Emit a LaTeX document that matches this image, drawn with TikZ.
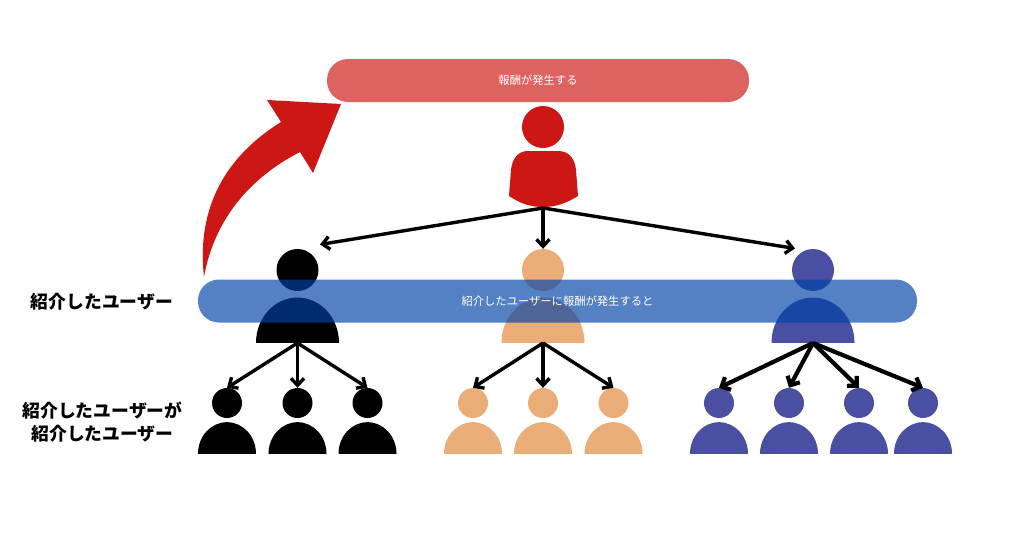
\documentclass[tikz,border=0pt]{standalone}
\usepackage{fontspec}
\setmainfont{Noto Sans CJK JP}
\usepackage{tikz}
\usetikzlibrary{shapes,arrows.meta,positioning}
\definecolor{redc}{HTML}{CC1714}
\definecolor{bluec}{RGB}{0,67,167}
\definecolor{orangec}{HTML}{EBAD78}
\definecolor{navyc}{HTML}{4B4FA1}
\tikzset{
  bar/.style={rectangle,rounded corners=21pt,inner sep=0pt,minimum height=43pt,fill opacity=.67,text opacity=1,text=white,font=\fontsize{11.3pt}{13pt}\selectfont},
  lbl/.style={align=center,font=\fontsize{17.8pt}{23pt}\selectfont\bfseries},
  hd/.style={circle,inner sep=0pt,minimum size=42pt},
  shd/.style={circle,inner sep=0pt,minimum size=30pt},
  bd/.style={semicircle,inner sep=0pt,minimum width=83pt,anchor=chord center,yscale=1.09,transform shape},
  sbd/.style={semicircle,inner sep=0pt,minimum width=58pt,anchor=chord center,yscale=1.09,transform shape},
  arr/.style={-{Straight Barb[length=7pt,width=13pt]},line width=3.4pt},
  thk/.style={-{Straight Barb[length=7pt,width=14pt]},line width=4.2pt},
}
\begin{document}
\begin{tikzpicture}[x=1pt,y=-1pt]
  \useasboundingbox (0,0) rectangle (1024,538);
  % top
  \node[bar,fill=redc,minimum width=422pt] (reward) at (538,80.5) {報酬が発生する};
  \fill[redc] (204,277) .. controls (196,205) and (228,155) .. (281,122) -- (267,100) -- (341,104) -- (313,173) -- (300,152) .. controls (255,175) and (215,215) .. cycle;
  \node[hd,fill=redc] (top) at (543,127) {};
  \fill[redc] (528,151) -- (558,151) .. controls (570,151) and (575,160) .. (576,170) -- (578,196) .. controls (565,204) and (555,207) .. (543,207) .. controls (531,207) and (521,204) .. (509,196) -- (511,170) .. controls (512,160) and (517,151) .. (528,151) -- cycle;
  \coordinate (root) at (543,208);
  % users
  \node[hd,fill=black] (u1) at (297.5,270) {};
  \node[bd,fill=black] (ub1) at (297.5,343) {};
  \node[hd,fill=orangec] (u2) at (543,270) {};
  \node[bd,fill=orangec] (ub2) at (543,343) {};
  \node[hd,fill=navyc] (u3) at (813,270) {};
  \node[bd,fill=navyc] (ub3) at (813,343) {};
  \coordinate (t1) at (320,244.5);
  \coordinate (t3) at (795,248.5);
  \draw[arr] (root) -- (t1);
  \draw[arr] (root) -- (u2.north);
  \draw[arr] (root) -- (t3);
  % second level
  \node[shd,fill=black] (a1) at (227,403) {};
  \node[sbd,fill=black] (ab1) at (227,454) {};
  \node[shd,fill=black] (a2) at (297.5,403) {};
  \node[sbd,fill=black] (ab2) at (297.5,454) {};
  \node[shd,fill=black] (a3) at (367.5,403) {};
  \node[sbd,fill=black] (ab3) at (367.5,454) {};
  \node[shd,fill=orangec] (b1) at (473,403) {};
  \node[sbd,fill=orangec] (bb1) at (473,454) {};
  \node[shd,fill=orangec] (b2) at (543,403) {};
  \node[sbd,fill=orangec] (bb2) at (543,454) {};
  \node[shd,fill=orangec] (b3) at (613.5,403) {};
  \node[sbd,fill=orangec] (bb3) at (613.5,454) {};
  \node[shd,fill=navyc] (c1) at (719,403) {};
  \node[sbd,fill=navyc] (cb1) at (719,454) {};
  \node[shd,fill=navyc] (c2) at (789,403) {};
  \node[sbd,fill=navyc] (cb2) at (789,454) {};
  \node[shd,fill=navyc] (c3) at (859,403) {};
  \node[sbd,fill=navyc] (cb3) at (859,454) {};
  \node[shd,fill=navyc] (c4) at (923,403) {};
  \node[sbd,fill=navyc] (cb4) at (923,454) {};
  \draw[arr] (ub1.chord center) -- (a1.north); \draw[arr] (ub1.chord center) -- (a2.north); \draw[arr] (ub1.chord center) -- (a3.north);
  \draw[arr] (ub2.chord center) -- (b1.north); \draw[arr] (ub2.chord center) -- (b2.north); \draw[arr] (ub2.chord center) -- (b3.north);
  \draw[thk] (ub3.chord center) -- (c1.north); \draw[thk] (ub3.chord center) -- (c2.north);
  \draw[thk] (ub3.chord center) -- (c3.north); \draw[thk] (ub3.chord center) -- (c4.north);
  % bar and labels
  \node[bar,fill=bluec,minimum width=719pt] (msg) at (557.5,301) {紹介したユーザーに報酬が発生すると};
  \node[lbl] (l1) at (102,302) {紹介したユーザー};
  \node[lbl] (l2) at (102.5,422.5) {紹介したユーザーが\\紹介したユーザー};
\end{tikzpicture}
\end{document}
